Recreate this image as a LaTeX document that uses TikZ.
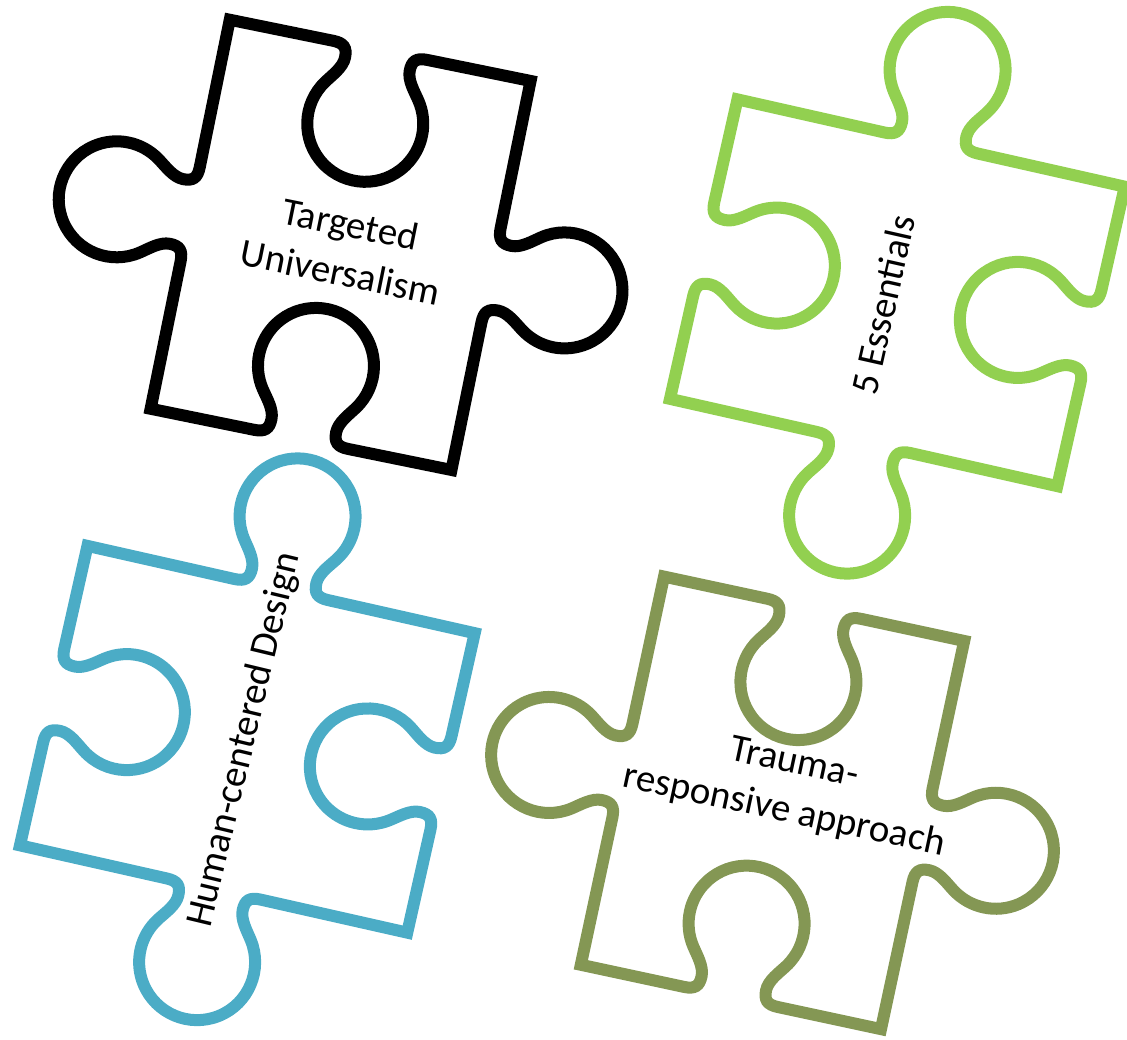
\documentclass[tikz,border=0pt]{standalone}
\usepackage{fontspec}
\setmainfont{Carlito}

\definecolor{vertclair}{RGB}{146,208,80}
\definecolor{bleu}{RGB}{75,172,198}
\definecolor{kaki}{RGB}{132,151,84}

\tikzset{
    puzzle/.pic={
        \draw[pic actions] (-153.5,198.5)
            -- (-48,198.5) .. controls (-37,198.5) and (-33,194.5) .. (-33,184.5)
            .. controls (-33,174.5) and (-41.8,165) .. (-47.5,156.8)
            arc[start angle=145, end angle=395, radius=58]
            .. controls (41.8,165) and (33,174.5) .. (33,184.5)
            .. controls (33,194.5) and (37,198.5) .. (48,198.5)
            -- (153.5,198.5)
            -- (153.5,48) .. controls (153.5,37) and (157.5,33) .. (167.5,33)
            .. controls (177.5,33) and (187,41.8) .. (195.2,47.5)
            arc[start angle=125, end angle=-125, radius=58]
            .. controls (187,-41.8) and (177.5,-33) .. (167.5,-33)
            .. controls (157.5,-33) and (153.5,-37) .. (153.5,-48)
            -- (153.5,-198.5)
            -- (48,-198.5) .. controls (37,-198.5) and (33,-194.5) .. (33,-184.5)
            .. controls (33,-174.5) and (41.8,-165) .. (47.5,-156.8)
            arc[start angle=-35, end angle=215, radius=58]
            .. controls (-41.8,-165) and (-33,-174.5) .. (-33,-184.5)
            .. controls (-33,-194.5) and (-37,-198.5) .. (-48,-198.5)
            -- (-153.5,-198.5)
            -- (-153.5,-48) .. controls (-153.5,-37) and (-157.5,-33) .. (-167.5,-33)
            .. controls (-177.5,-33) and (-187,-41.8) .. (-195.2,-47.5)
            arc[start angle=305, end angle=55, radius=58]
            .. controls (-187,41.8) and (-177.5,33) .. (-167.5,33)
            .. controls (-157.5,33) and (-153.5,37) .. (-153.5,48)
            -- cycle;
    }
}

\begin{document}
\begin{tikzpicture}[x=0.5pt, y=0.5pt,
    piece/.style={line width=6pt, line join=miter},
    etiquette/.style={font=\fontsize{19.5pt}{24.5pt}\selectfont, align=center, inner sep=0pt}]

    \useasboundingbox (0,0) rectangle (1127,-1039);
    \clip (0,0) rectangle (1127,-1039);

    % Pièces du puzzle
    \pic[piece, draw=black, rotate=-11.5] at (340.6,-244.85) {puzzle};
    \pic[piece, draw=vertclair, rotate=77.3] at (897.35,-292.75) {puzzle};
    \pic[piece, draw=bleu, rotate=77.3] at (247.35,-739.25) {puzzle};
    \pic[piece, draw=kaki, rotate=-12.1] at (772.5,-802.85) {puzzle};

    % Textes
    \node[etiquette, rotate=-11.5] (tu) at (345.5,-248) {Targeted\\Universalism};
    \node[etiquette, rotate=77.3] (essentials) at (883,-305) {5 Essentials};
    \node[etiquette, rotate=76.5] (hcd) at (245,-740) {Human-centered Design};
    \node[etiquette, rotate=-12.1] (trauma) at (789,-788) {Trauma-\\responsive approach};

\end{tikzpicture}
\end{document}
